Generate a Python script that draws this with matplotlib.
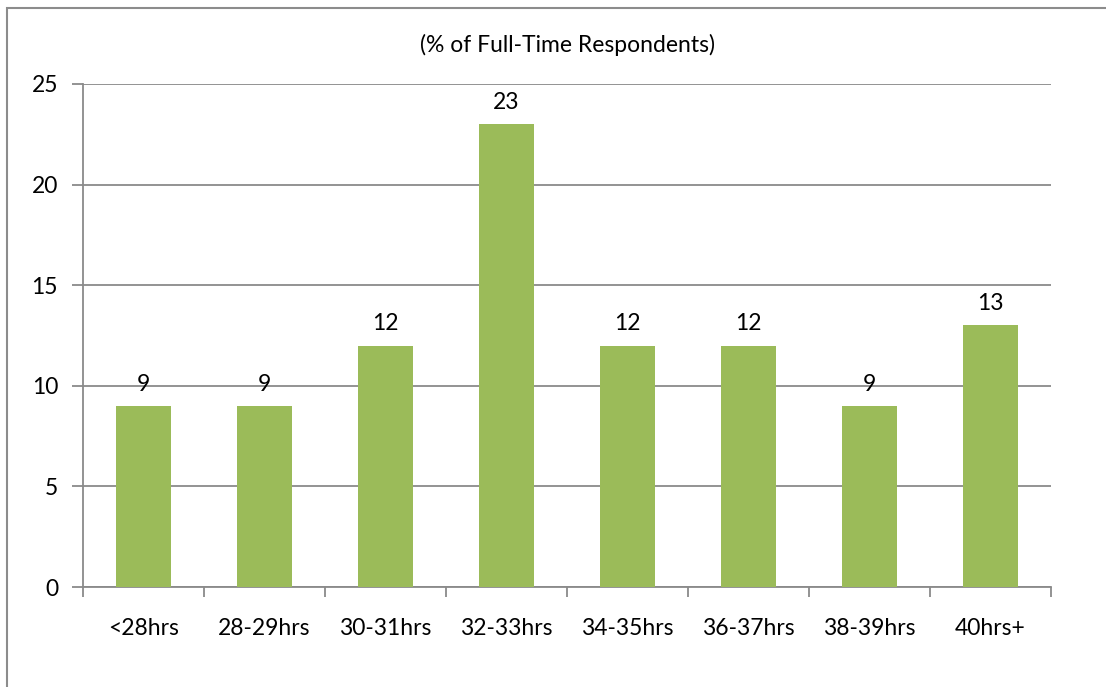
import matplotlib
matplotlib.use("Agg")
import matplotlib.pyplot as plt
from matplotlib.patches import Rectangle

categories = ["<28hrs", "28-29hrs", "30-31hrs", "32-33hrs", "34-35hrs", "36-37hrs", "38-39hrs", "40hrs+"]
values = [9, 9, 12, 23, 12, 12, 9, 13]
y_ticks = [0, 5, 10, 15, 20, 25]
title = "(% of Full-Time Respondents)"

plt.rcParams["font.family"] = ["Lato", "DejaVu Sans"]
FS = 16.5

W, H = 1106, 687
fig = plt.figure(figsize=(W / 100, H / 100), dpi=100)

# outer chart frame (only top and left edges fall inside the canvas)
fig.patches.append(Rectangle((7 / W, -0.1), 1.2, 1 - 8 / H + 0.1,
                             transform=fig.transFigure, fill=False,
                             edgecolor="#8c8c8c", linewidth=1.5))

ax = fig.add_axes([83 / W, 1 - 587 / H, (1051 - 83) / W, (587 - 84) / H])

grid_color = "#8a8a8a"
x = list(range(len(categories)))
ax.bar(x, values, width=0.46, color="#9BBB59", zorder=3)

for xi, v in zip(x, values):
    ax.text(xi, v + 0.55, str(v), ha="center", va="bottom", fontsize=FS, color="#000000", zorder=4)

ax.set_xlim(-0.5, len(categories) - 0.5)
ax.set_ylim(0, 25)
ax.set_yticks(y_ticks)
ax.set_yticklabels([str(t) for t in y_ticks], fontsize=FS)
ax.yaxis.grid(True, color=grid_color, linewidth=1.3, zorder=0)
ax.set_axisbelow(True)

ax.set_xticks([i - 0.5 for i in range(len(categories) + 1)])
ax.set_xticklabels([])
ax.set_xticks(x, minor=True)
ax.set_xticklabels(categories, minor=True, fontsize=FS)
ax.tick_params(axis="x", which="minor", length=0, pad=22)
ax.tick_params(axis="x", which="major", length=7, width=1.3, color=grid_color, direction="out")
ax.tick_params(axis="y", length=8, width=1.3, color=grid_color, pad=10)

for side in ["top", "right"]:
    ax.spines[side].set_visible(False)
for side in ["left", "bottom"]:
    ax.spines[side].set_color(grid_color)
    ax.spines[side].set_linewidth(1.3)

fig.text(567 / W, 1 - 45 / H, title, ha="center", va="center", fontsize=FS)

fig.savefig("out.png", dpi=100)
